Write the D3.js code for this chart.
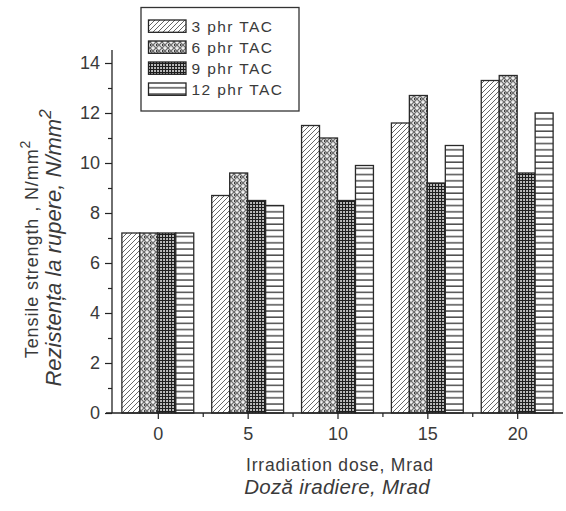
<!DOCTYPE html>
<html>
<head>
<meta charset="utf-8">
<script src="https://cdnjs.cloudflare.com/ajax/libs/d3/7.8.5/d3.min.js"></script>
<style>
	body{margin:0;background:#fff;}
	svg text{font-family:"Liberation Sans",Arial,sans-serif;fill:#3a3a3a;}
</style>
</head>
<body>
<svg id="chart" width="566" height="511"></svg>
<script>

var doses = [0,5,10,15,20];
var seriesNames = ["3 phr TAC","6 phr TAC","9 phr TAC","12 phr TAC"];
var tac3 = [7.2,8.7,11.5,11.6,13.3];
var tac6 = [7.2,9.6,11.0,12.7,13.5];
var tac9 = [7.2,8.5,8.5,9.2,9.6];
var tac12 = [7.2,8.3,9.9,10.7,12.0];
var yTicks = [0,2,4,6,8,10,12,14];

var series = [tac3,tac6,tac9,tac12];
var patternIds = ["p3","p6","p9","p12"];

var svg = d3.select("#chart");

var x = d3.scaleLinear().domain([-2.55,22.55]).range([112,563]);
var y = d3.scaleLinear().domain([0,14.52]).range([413,50]);

initPatterns();
drawBars();
drawAxes();
drawLegend();
drawLabels();


function initPatterns(){
	var defs = svg.append("defs");

	// diagonal hatch
	var p = defs.append("pattern").attr("id","p3").attr("patternUnits","userSpaceOnUse")
		.attr("width",5).attr("height",5);
	p.append("rect").attr("width",5).attr("height",5).attr("fill","#fff");
	p.append("path").attr("d","M-1,1 l2,-2 M0,5 l5,-5 M4,6 l2,-2")
		.attr("stroke","#555").attr("stroke-width",0.9);

	// cross hatch with dots
	p = defs.append("pattern").attr("id","p6").attr("patternUnits","userSpaceOnUse")
		.attr("width",6).attr("height",6);
	p.append("rect").attr("width",6).attr("height",6).attr("fill","#e4e4e4");
	p.append("path").attr("d","M0,0 L6,6 M6,0 L0,6")
		.attr("stroke","#6a6a6a").attr("stroke-width",1.1);
	p.append("circle").attr("cx",3).attr("cy",0).attr("r",0.9).attr("fill","#fff");
	p.append("rect").attr("x",0).attr("y",2.2).attr("width",1.3).attr("height",1.6).attr("fill","#111");

	// dense grid
	p = defs.append("pattern").attr("id","p9").attr("patternUnits","userSpaceOnUse")
		.attr("width",3).attr("height",3);
	p.append("rect").attr("width",3).attr("height",3).attr("fill","#bbb");
	p.append("path").attr("d","M0,0.5 H3 M0.5,0 V3")
		.attr("stroke","#1e1e1e").attr("stroke-width",1.1);

	// horizontal lines
	p = defs.append("pattern").attr("id","p12").attr("patternUnits","userSpaceOnUse")
		.attr("width",8).attr("height",6.2);
	p.append("rect").attr("width",8).attr("height",6.2).attr("fill","#fff");
	p.append("path").attr("d","M0,1 H8").attr("stroke","#333").attr("stroke-width",1.3);
}

function drawBars(){
	for(var s=0;s<series.length;s++){
		svg.append("g").selectAll("rect")
		.data(series[s])
		.enter()
		.append("rect")
		.attr("x",function(d,i){ return x(doses[i]-2+s); })
		.attr("width",function(d,i){ return x(doses[i]-1+s)-x(doses[i]-2+s); })
		.attr("y",function(d){ return y(d); })
		.attr("height",function(d){ return y(0)-y(d); })
		.attr("fill","url(#"+patternIds[s]+")")
		.attr("stroke","#2a2a2a")
		.attr("stroke-width",1.3);
	}
}

function drawAxes(){
	var yAxis = d3.axisLeft(y).tickValues(yTicks).tickSize(7).tickPadding(5).tickFormat(d3.format("d"));
	var gy = svg.append("g").attr("transform","translate(112,0)").call(yAxis);
	gy.select(".domain").attr("d","M0,"+y(14.52)+"V"+y(0));

	var yMinor = d3.axisLeft(y).tickValues([1,3,5,7,9,11,13]).tickSize(4).tickFormat("");
	var gym = svg.append("g").attr("transform","translate(112,0)").call(yMinor);
	gym.select(".domain").remove();

	var xAxis = d3.axisBottom(x).tickValues(doses).tickSize(6).tickPadding(8).tickFormat(d3.format("d"));
	var gx = svg.append("g").attr("transform","translate(0,413)").call(xAxis);
	gx.select(".domain").attr("d","M106,0H563");

	var xMinor = d3.axisBottom(x).tickValues([2.5,7.5,12.5,17.5]).tickSize(4).tickFormat("");
	var gxm = svg.append("g").attr("transform","translate(0,413)").call(xMinor);
	gxm.select(".domain").remove();

	svg.selectAll(".tick line").attr("stroke","#222").attr("stroke-width",1.2);
	svg.selectAll(".domain").attr("stroke","#222").attr("stroke-width",1.3);
	svg.selectAll(".tick text").attr("font-size",18).attr("fill","#3a3a3a")
		.style("font-family","'Liberation Sans',Arial,sans-serif");
}

function drawLegend(){
	var lg = svg.append("g");
	lg.append("rect").attr("x",141).attr("y",7.5).attr("width",158).attr("height",103.5)
		.attr("fill","#fff").attr("stroke","#333").attr("stroke-width",1.3);

	for(var i=0;i<seriesNames.length;i++){
		var top = 20+i*21;
		lg.append("rect").attr("x",148.5).attr("y",top).attr("width",37.5).attr("height",12.3)
			.attr("fill","url(#"+patternIds[i]+")").attr("stroke","#222").attr("stroke-width",1.3);
		lg.append("text").attr("x",191.5).attr("y",top+12)
			.attr("font-size",15.5).attr("letter-spacing",1.4)
			.text(seriesNames[i]);
	}
}

function drawLabels(){
	var t1 = svg.append("text").attr("transform","translate(38,249) rotate(-90)")
		.attr("text-anchor","middle").attr("font-size",18).attr("letter-spacing",0.9);
	t1.append("tspan").text("Tensile strength , N/mm");
	t1.append("tspan").attr("dy",-8).attr("font-size",14).text("2");

	var t2 = svg.append("text").attr("transform","translate(61,248) rotate(-90)")
		.attr("text-anchor","middle").attr("font-size",22).attr("font-style","italic");
	t2.append("tspan").text("Rezistența la rupere, N/mm");
	t2.append("tspan").attr("dy",-10).attr("font-size",17).text("2");

	svg.append("text").attr("x",340).attr("y",471).attr("text-anchor","middle")
		.attr("font-size",17.5).attr("letter-spacing",0.8).text("Irradiation dose, Mrad");
	svg.append("text").attr("x",337).attr("y",494).attr("text-anchor","middle")
		.attr("font-size",20.5).attr("font-style","italic").attr("letter-spacing",0.3).text("Doză iradiere, Mrad");
}

</script>
</body>
</html>
